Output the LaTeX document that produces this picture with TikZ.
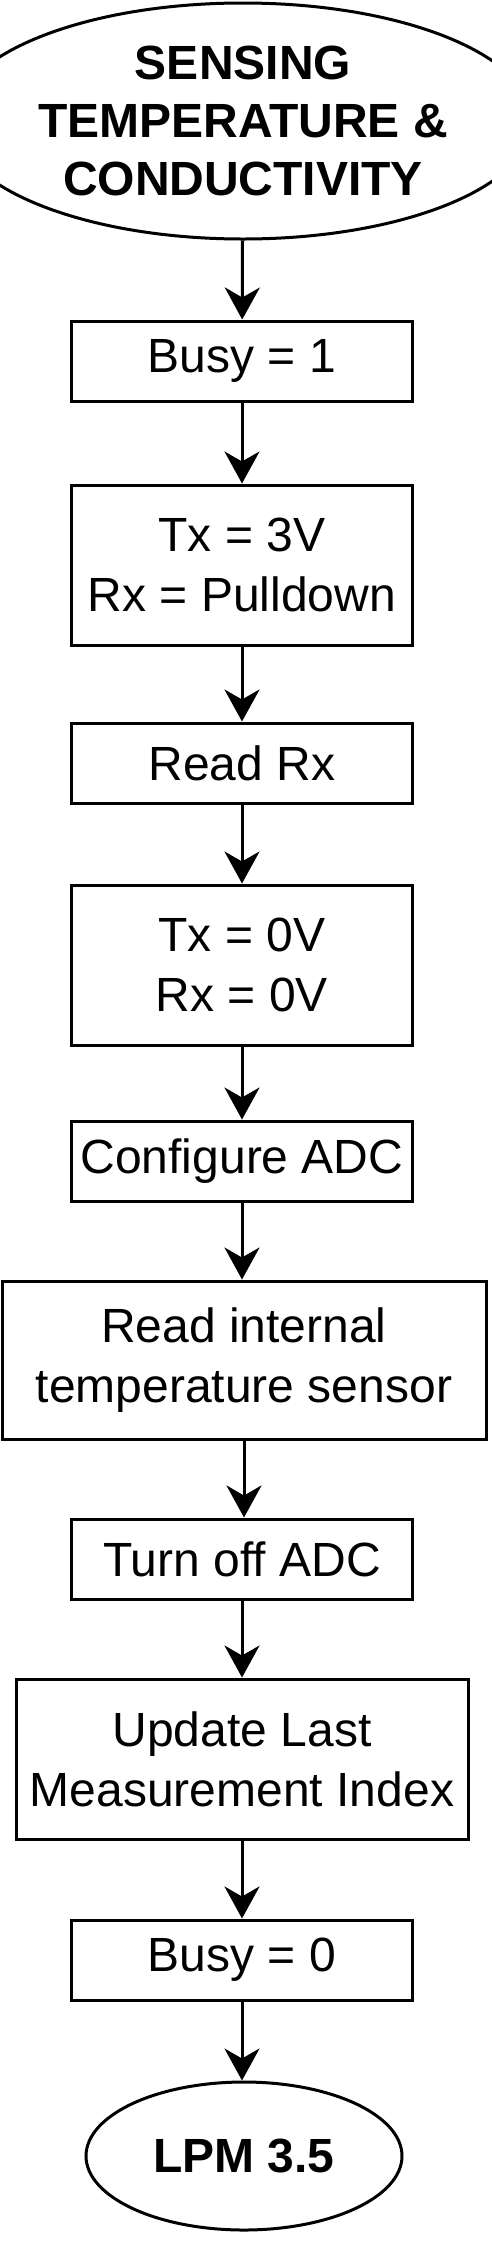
\documentclass[tikz,border=0pt]{standalone}
\usepackage{fontspec}
\setmainfont{Liberation Sans}
\usepackage{tikz}
\usetikzlibrary{arrows.meta,shapes.geometric}
\definecolor{flowink}{HTML}{000000}

\begin{document}
\begin{tikzpicture}[x=1pt,y=-1pt,
    every node/.style={font=\fontsize{48}{60}\selectfont, align=center, inner sep=0pt},
    procbox/.style={draw=flowink, line width=3pt, rectangle, minimum width=341pt, minimum height=80pt},
    termnode/.style={draw=flowink, line width=3pt, ellipse, font=\fontsize{48}{58}\selectfont\bfseries},
    flow/.style={draw=flowink, line width=3pt, -{Stealth[length=32pt,width=35pt,inset=10pt]}}]
  \useasboundingbox (0,0) rectangle (492,2244);

  % start / end
  \node[termnode, minimum width=478pt, minimum height=236pt] (start) at (243,121)
    {SENSING\\TEMPERATURE \&\\CONDUCTIVITY};
  \node[termnode, minimum width=316pt, minimum height=148pt] (lpm) at (244,2156) {LPM 3.5};

  % steps
  \node[procbox] (busyon) at (242,361) {Busy = 1};
  \node[procbox, minimum height=160pt] (txhigh) at (242,565) {Tx = 3V\\Rx = Pulldown};
  \node[procbox] (readrx) at (242,763) {Read Rx};
  \node[procbox, minimum height=160pt] (txlow) at (242,965) {Tx = 0V\\Rx = 0V};
  \node[procbox] (adcon) at (242,1161) {Configure ADC};
  \node[procbox, minimum width=484pt, minimum height=158pt] (tempread) at (244,1360)
    {Read internal\\temperature sensor};
  \node[procbox] (adcoff) at (242,1559) {Turn off ADC};
  \node[procbox, minimum width=452pt, minimum height=160pt] (lastidx) at (242,1759)
    {Update Last\\Measurement Index};
  \node[procbox] (busyoff) at (242,1960) {Busy = 0};

  % connectors
  \draw[flow] (start) -- (busyon);
  \draw[flow] (busyon) -- (txhigh);
  \draw[flow] (txhigh) -- (readrx);
  \draw[flow] (readrx) -- (txlow);
  \draw[flow] (txlow) -- (adcon);
  \draw[flow] (adcon) -- (adcon |- tempread.north);
  \draw[flow] (tempread) -- (tempread |- adcoff.north);
  \draw[flow] (adcoff) -- (lastidx);
  \draw[flow] (lastidx) -- (busyoff);
  \draw[flow] (busyoff) -- (busyoff |- lpm.north);
\end{tikzpicture}
\end{document}
